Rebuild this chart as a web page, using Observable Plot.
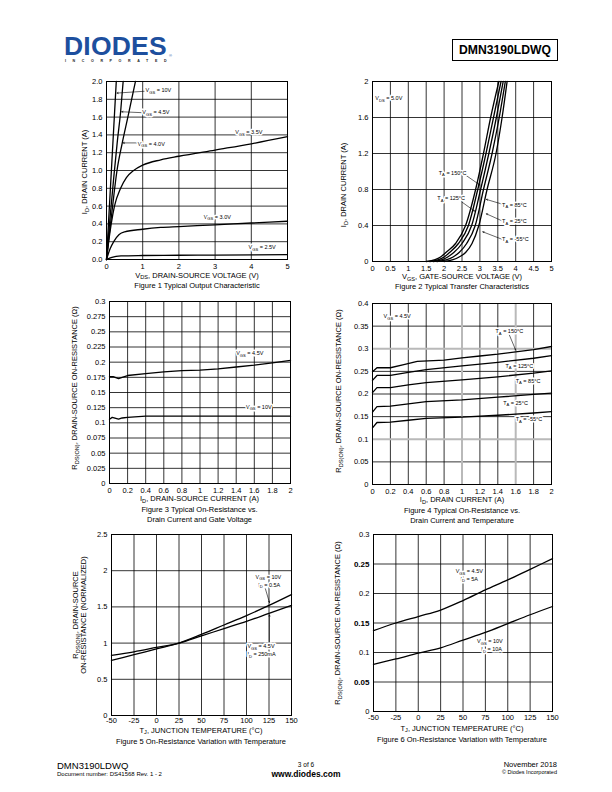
<!DOCTYPE html>
<html><head><meta charset="utf-8">
<script src="https://cdn.jsdelivr.net/npm/d3@7"></script>
<script src="https://cdn.jsdelivr.net/npm/@observablehq/plot@0.6"></script>
<style>
body{margin:0;background:#fff;}
#page{position:relative;width:612px;height:792px;overflow:hidden;font-family:"Liberation Sans",Arial,Helvetica,sans-serif;color:#000;background:#fff;}
.t{position:absolute;white-space:nowrap;line-height:1;}
.sub{font-size:75%;position:relative;top:0.3em;}
</style></head><body><div id="page"></div>
<script>
// ---------------- DATA ----------------
// Figure 1: I_D vs V_DS  [V_DS, I_D]
const fig1_xticks = [0,1,2,3,4,5];
const fig1_yticks = [0,0.2,0.4,0.6,0.8,1.0,1.2,1.4,1.6,1.8,2.0];
const fig1_vgs10 = [[0,0],[0.27,2.0]];
const fig1_vgs45 = [[0,0],[0.1,0.48],[0.2,0.92],[0.3,1.33],[0.39,1.66],[0.46,2.0]];
const fig1_vgs40 = [[0,0],[0.07,0.26],[0.14,0.5],[0.29,1.0],[0.43,1.3],[0.59,1.6],[0.8,2.0]];
const fig1_vgs35 = [[0,0],[0.06,0.2],[0.13,0.4],[0.22,0.6],[0.39,0.8],[0.55,0.92],[0.75,1.0],[1.0,1.06],[1.5,1.12],[2,1.16],[3,1.23],[4,1.3],[5,1.38]];
const fig1_vgs30 = [[0,0],[0.1,0.12],[0.2,0.2],[0.35,0.28],[0.5,0.31],[1.0,0.34],[1.5,0.36],[2,0.37],[3,0.39],[4,0.41],[5,0.43]];
const fig1_vgs25 = [[0,0],[0.15,0.025],[0.4,0.04],[1,0.045],[2,0.048],[3,0.05],[5,0.055]];
const fig1_labels = [
  {x:1.08,y:1.90,text:"V_{GS} = 10V",anchor:"start"},
  {x:0.99,y:1.65,text:"V_{GS} = 4.5V",anchor:"start"},
  {x:0.86,y:1.30,text:"V_{GS} = 4.0V",anchor:"start"},
  {x:3.93,y:1.43,text:"V_{GS} = 3.5V",anchor:"middle"},
  {x:3.06,y:0.48,text:"V_{GS} = 3.0V",anchor:"middle"},
  {x:4.30,y:0.135,text:"V_{GS} = 2.5V",anchor:"middle"}];
const fig1_arrows = [
  {x1:1.04,y1:1.89,x2:0.29,y2:1.87},
  {x1:0.96,y1:1.65,x2:0.42,y2:1.66},
  {x1:0.83,y1:1.31,x2:0.46,y2:1.31}];

// Figure 2: I_D vs V_GS  [V_GS, I_D]
const fig2_xticks = [0,0.5,1,1.5,2,2.5,3,3.5,4,4.5,5];
const fig2_yticks = [0,0.4,0.8,1.2,1.6,2];
const fig2_ta150 = [[1.5,0],[1.75,0.02],[1.9,0.05],[2.05,0.1],[2.32,0.2],[2.6,0.4],[2.88,0.8],[3.1,1.2],[3.3,1.6],[3.53,2.0]];
const fig2_ta125 = [[1.6,0],[1.85,0.02],[2.0,0.05],[2.15,0.1],[2.4,0.2],[2.68,0.4],[2.94,0.8],[3.17,1.2],[3.38,1.6],[3.59,2.0]];
const fig2_ta85  = [[1.7,0],[1.95,0.02],[2.1,0.05],[2.27,0.1],[2.5,0.2],[2.77,0.4],[3.02,0.8],[3.25,1.2],[3.46,1.6],[3.65,2.0]];
const fig2_ta25  = [[1.8,0],[2.08,0.02],[2.25,0.05],[2.42,0.1],[2.63,0.2],[2.87,0.4],[3.1,0.8],[3.34,1.2],[3.54,1.6],[3.71,2.0]];
const fig2_tan55 = [[2.0,0],[2.25,0.02],[2.42,0.05],[2.6,0.1],[2.78,0.2],[2.97,0.4],[3.2,0.8],[3.45,1.2],[3.62,1.6],[3.76,2.0]];
const fig2_labels = [
  {x:0.08,y:1.81,text:"V_{DS} = 5.0V",anchor:"start"},
  {x:1.85,y:0.986,text:"T_{A} = 150°C",anchor:"start"},
  {x:1.81,y:0.70,text:"T_{A} = 125°C",anchor:"start"},
  {x:3.62,y:0.63,text:"T_{A} = 85°C",anchor:"start"},
  {x:3.62,y:0.448,text:"T_{A} = 25°C",anchor:"start"},
  {x:3.62,y:0.244,text:"T_{A} = -55°C",anchor:"start"}];
const fig2_arrows = [
  {x1:2.6,y1:0.96,x2:3.0,y2:0.85},
  {x1:2.5,y1:0.66,x2:2.85,y2:0.56},
  {x1:3.6,y1:0.64,x2:3.18,y2:0.69},
  {x1:3.6,y1:0.455,x2:3.18,y2:0.53},
  {x1:3.6,y1:0.25,x2:3.08,y2:0.33}];

// Figure 3: R_DS(ON) vs I_D
const fig3_xticks = [0,0.2,0.4,0.6,0.8,1,1.2,1.4,1.6,1.8,2];
const fig3_yticks = [0,0.025,0.05,0.075,0.1,0.125,0.15,0.175,0.2,0.225,0.25,0.275,0.3];
const fig3_vgs45 = [[0,0.176],[0.04,0.176],[0.1,0.173],[0.14,0.175],[0.2,0.178],[0.4,0.181],[0.6,0.184],[0.8,0.186],[1.0,0.187],[1.2,0.189],[1.4,0.192],[1.6,0.195],[1.8,0.199],[2.0,0.203]];
const fig3_vgs10 = [[0,0.106],[0.03,0.109],[0.1,0.106],[0.14,0.108],[0.2,0.109],[0.4,0.111],[0.6,0.111],[0.8,0.111],[1.0,0.111],[1.4,0.111],[1.8,0.111],[2.0,0.111]];
const fig3_labels = [
  {x:1.55,y:0.214,text:"V_{GS} = 4.5V",anchor:"middle"},
  {x:1.65,y:0.126,text:"V_{GS} = 10V",anchor:"middle"}];

// Figure 4: R_DS(ON) vs I_D and temperature
const fig4_xticks = [0,0.2,0.4,0.6,0.8,1,1.2,1.4,1.6,1.8,2];
const fig4_yticks = [0,0.05,0.1,0.15,0.2,0.25,0.3,0.35,0.4];
const fig4_grayX = [1,1.6];
const fig4_grayY = [0.1,0.3];
const fig4_ta150 = [[0,0.249],[0.05,0.258],[0.2,0.258],[0.35,0.265],[0.5,0.272],[0.8,0.275],[1.0,0.28],[1.2,0.284],[1.4,0.288],[1.6,0.293],[1.8,0.298],[2.0,0.305]];
const fig4_ta125 = [[0,0.23],[0.05,0.241],[0.2,0.241],[0.4,0.248],[0.6,0.254],[1.0,0.262],[1.4,0.27],[1.8,0.279],[2.0,0.285]];
const fig4_ta85  = [[0,0.203],[0.05,0.214],[0.2,0.214],[0.4,0.22],[0.6,0.225],[1.0,0.231],[1.4,0.238],[1.8,0.246],[2.0,0.251]];
const fig4_ta25  = [[0,0.16],[0.05,0.172],[0.2,0.173],[0.4,0.178],[0.6,0.183],[1.0,0.187],[1.4,0.193],[1.8,0.199],[2.0,0.202]];
const fig4_tan55 = [[0,0.125],[0.05,0.137],[0.2,0.138],[0.4,0.142],[0.6,0.146],[1.0,0.149],[1.4,0.153],[1.8,0.158],[2.0,0.161]];
const fig4_labels = [
  {x:0.123,y:0.371,text:"V_{GS} = 4.5V",anchor:"start"},
  {x:1.374,y:0.338,text:"T_{A} = 150°C",anchor:"start"},
  {x:1.486,y:0.262,text:"T_{A} = 125°C",anchor:"start"},
  {x:1.6,y:0.229,text:"T_{A} = 85°C",anchor:"start"},
  {x:1.46,y:0.18,text:"T_{A} = 25°C",anchor:"start"},
  {x:1.6,y:0.144,text:"T_{A} = -55°C",anchor:"start"}];
const fig4_arrows = [{x1:1.53,y1:0.33,x2:1.6,y2:0.297}];

// Figure 5: normalized R_DS(ON) vs T_J
const fig5_xticks = [-50,-25,0,25,50,75,100,125,150];
const fig5_yticks = [0,0.5,1,1.5,2,2.5];
const fig5_vgs10 = [[-50,0.76],[-25,0.84],[0,0.92],[25,1.0],[50,1.12],[75,1.25],[100,1.38],[125,1.52],[150,1.67]];
const fig5_vgs45 = [[-50,0.83],[-25,0.88],[0,0.94],[25,1.0],[50,1.1],[75,1.2],[100,1.3],[125,1.41],[150,1.52]];
const fig5_labels = [
  {x:110,y:1.915,text:"V_{GS} = 10V",anchor:"start"},
  {x:113,y:1.805,text:"I_{D} = 0.5A",anchor:"start"},
  {x:101,y:0.95,text:"V_{GS} = 4.5V",anchor:"start"},
  {x:101,y:0.84,text:"I_{D} = 250mA",anchor:"start"}];
const fig5_arrows = [
  {x1:121,y1:1.75,x2:125.5,y2:1.56},
  {x1:125.5,y1:1.01,x2:125.5,y2:1.39}];

// Figure 6: R_DS(ON) vs T_J
const fig6_xticks = [-50,-25,0,25,50,75,100,125,150];
const fig6_yticks = [0,0.05,0.1,0.15,0.2,0.25,0.3];
const fig6_vgs45 = [[-50,0.137],[-25,0.15],[0,0.161],[25,0.172],[50,0.188],[75,0.206],[100,0.223],[125,0.241],[150,0.259]];
const fig6_vgs10 = [[-50,0.08],[-25,0.089],[0,0.099],[25,0.108],[50,0.121],[75,0.134],[100,0.149],[125,0.164],[150,0.178]];
const fig6_labels = [
  {x:57,y:0.2375,text:"V_{GS} = 4.5V",anchor:"middle"},
  {x:57,y:0.2245,text:"I_{D} = 5A",anchor:"middle"},
  {x:80,y:0.1185,text:"V_{GS} = 10V",anchor:"middle"},
  {x:82,y:0.1055,text:"I_{D} = 10A",anchor:"middle"}];
const fig6_boldTicks = ["0.25","0.15","0.05"];

// ---------------- RENDER ----------------
const page = document.getElementById("page");
const FONT = '"Liberation Sans", Arial, Helvetica, sans-serif';
const ANN = 5.5;
const svgns = "http://www.w3.org/2000/svg";

function subHTML(s){ return s.replace(/_\{([^}]*)\}/g,'<span class="sub">$1</span>'); }
function txt(s,x,y,o={}){
  const d=document.createElement("div");
  d.className="t"; d.innerHTML=subHTML(s);
  d.style.left=x+"px"; d.style.top=y+"px";
  d.style.fontSize=(o.size||7.5)+"px";
  if(o.weight) d.style.fontWeight=o.weight;
  if(o.color) d.style.color=o.color;
  if(o.ls) d.style.letterSpacing=o.ls+"px";
  const a=o.anchor||"middle";
  const tx=a==="middle"?"-50%":a==="end"?"-100%":"0";
  d.style.transform=`translate(${tx},-50%)`+(o.rotate?" rotate(-90deg)":"");
  page.appendChild(d); return d;
}
function subify(svg,fs){
  svg.querySelectorAll("text").forEach(t=>{
    const s=t.textContent;
    if(!s.includes("_{")||t.querySelector("tspan")) return;
    t.textContent="";
    let shifted=false;
    const add=(str,sub)=>{
      if(!str) return;
      const ts=document.createElementNS(svgns,"tspan");
      ts.textContent=str;
      if(sub){ts.setAttribute("font-size",fs*0.75);ts.setAttribute("dy",fs*0.3);shifted=true;}
      else if(shifted){ts.setAttribute("dy",-fs*0.3);shifted=false;}
      t.appendChild(ts);
    };
    const re=/_\{([^}]*)\}/g; let last=0,m;
    while((m=re.exec(s))){add(s.slice(last,m.index),false);add(m[1],true);last=re.lastIndex;}
    add(s.slice(last),false);
  });
}
function chart(c){
  const {L,R,T,B}=c.frame; const mL=42,mR=14,mT=8,mB=16;
  const W=R-L+mL+mR, H=B-T+mT+mB;
  const marks=[];
  if(c.gridMarks) marks.push(...c.gridMarks);
  else marks.push(Plot.ruleX(c.xticks,{stroke:"black",strokeWidth:0.8}),Plot.ruleY(c.yticks,{stroke:"black",strokeWidth:0.8}));
  marks.push(Plot.frame({stroke:"black",strokeWidth:1}));
  c.series.forEach(s=>marks.push(Plot.line(s,{x:p=>p[0],y:p=>p[1],stroke:"black",strokeWidth:1.3,curve:c.curve||"monotone-x"})));
  if(c.arrows) marks.push(Plot.arrow(c.arrows,{x1:"x1",y1:"y1",x2:"x2",y2:"y2",stroke:"black",strokeWidth:0.6,headLength:3.5,headAngle:50}));
  if(c.labels) ["start","middle","end"].forEach(a=>{
    const ls=c.labels.filter(d=>d.anchor===a);
    if(ls.length) marks.push(Plot.text(ls,{x:"x",y:"y",text:"text",textAnchor:a,fontSize:ANN,fill:"black",stroke:"white",strokeWidth:3}));
  });
  marks.push(Plot.axisX({ticks:c.xticks,tickSize:0,tickPadding:c.xpad??4,tickFormat:c.xfmt||(d=>String(d)),label:null}));
  marks.push(Plot.axisY({ticks:c.yticks,tickSize:0,tickPadding:4,tickFormat:c.yfmt||(d=>String(d)),label:null}));
  const svg=Plot.plot({width:W,height:H,marginLeft:mL,marginRight:mR,marginTop:mT,marginBottom:mB,
    x:{domain:c.xdomain},y:{domain:c.ydomain},
    style:{fontFamily:FONT,fontSize:"7.5px",color:"black",background:"transparent",overflow:"visible"},marks});
  svg.style.position="absolute"; svg.style.left=(L-mL)+"px"; svg.style.top=(T-mT)+"px";
  subify(svg,ANN);
  page.appendChild(svg);
  return svg;
}

// Header
txt("DIODES",64,45.5,{size:26.5,weight:"bold",anchor:"start",color:"#1d4f9e",ls:0.2});
txt("INCORPORATED",65,62,{size:3.6,weight:"bold",anchor:"start",color:"#222",ls:6.6});
txt("®",169,56,{size:4,anchor:"start",color:"#1d4f9e"});
const box=document.createElement("div");
box.style.cssText="position:absolute;left:452px;top:39px;width:104px;height:20px;border:1.2px solid #000;display:flex;align-items:center;justify-content:center;font-weight:bold;font-size:12.2px;";
box.textContent="DMN3190LDWQ"; page.appendChild(box);

// Figure 1
chart({frame:{L:106,R:287,T:81,B:259},xdomain:[0,5],ydomain:[0,2],xticks:fig1_xticks,yticks:fig1_yticks,
  yfmt:d=>d.toFixed(1),series:[fig1_vgs10,fig1_vgs45,fig1_vgs40,fig1_vgs35,fig1_vgs30,fig1_vgs25],
  labels:fig1_labels,arrows:fig1_arrows});
txt("V_{DS}, DRAIN-SOURCE VOLTAGE (V)",197,275.5);
txt("Figure 1  Typical Output Characteristic",197,285.5);
txt("I_{D}, DRAIN CURRENT (A)",85,172,{rotate:true});

// Figure 2
chart({frame:{L:372,R:551,T:81,B:261},xdomain:[0,5],ydomain:[0,2],xticks:fig2_xticks,yticks:fig2_yticks,
  series:[fig2_ta150,fig2_ta125,fig2_ta85,fig2_ta25,fig2_tan55],labels:fig2_labels,arrows:fig2_arrows});
txt("V_{GS}, GATE-SOURCE VOLTAGE (V)",462,277);
txt("Figure 2  Typical Transfer Characteristics",462,287);
txt("I_{D}, DRAIN CURRENT (A)",344,185,{rotate:true});

// Figure 3
chart({frame:{L:109,R:290,T:301,B:483},xdomain:[0,2],ydomain:[0,0.3],xticks:fig3_xticks,yticks:fig3_yticks,
  series:[fig3_vgs45,fig3_vgs10],curve:"linear",labels:fig3_labels});
txt("I_{D}, DRAIN-SOURCE CURRENT (A)",199.5,499.3);
txt("Figure 3  Typical On-Resistance vs.",199.5,510);
txt("Drain Current and Gate Voltage",199.5,520);
txt("R_{DS(ON)}, DRAIN-SOURCE ON-RESISTANCE (Ω)",75,388,{rotate:true});

// Figure 4
chart({frame:{L:372,R:551,T:303,B:484},xdomain:[0,2],ydomain:[0,0.4],xticks:fig4_xticks,yticks:fig4_yticks,
  gridMarks:[
    Plot.ruleX(fig4_xticks.filter(v=>!fig4_grayX.includes(v)),{stroke:"black",strokeWidth:0.8}),
    Plot.ruleY(fig4_yticks.filter(v=>!fig4_grayY.includes(v)),{stroke:"black",strokeWidth:0.8}),
    Plot.ruleX(fig4_grayX,{stroke:"#b9b9b9",strokeWidth:2}),
    Plot.ruleY(fig4_grayY,{stroke:"#b9b9b9",strokeWidth:2})],
  series:[fig4_ta150,fig4_ta125,fig4_ta85,fig4_ta25,fig4_tan55],curve:"linear",labels:fig4_labels,arrows:fig4_arrows});
txt("I_{D}, DRAIN CURRENT (A)",462,500);
txt("Figure 4  Typical On-Resistance vs.",462,510.5);
txt("Drain Current and Temperature",462,520.5);
txt("R_{DS(ON)}, DRAIN-SOURCE ON-RESISTANCE (Ω)",339,391,{rotate:true});

// Figure 5
chart({frame:{L:111,R:291,T:534,B:715},xdomain:[-50,150],ydomain:[0,2.5],xticks:fig5_xticks,yticks:fig5_yticks,
  xpad:2.5,series:[fig5_vgs10,fig5_vgs45],labels:fig5_labels,arrows:fig5_arrows});
txt("T_{J}, JUNCTION TEMPERATURE (°C)",201,730.5);
txt("Figure 5 On-Resistance Variation with Temperature",201,742);
txt("R_{DS(ON)}, DRAIN-SOURCE",76,615,{rotate:true});
txt("ON-RESISTANCE (NORMALIZED)",83.5,615,{rotate:true});

// Figure 6
const s6=chart({frame:{L:373,R:552,T:534,B:711},xdomain:[-50,150],ydomain:[0,0.3],xticks:fig6_xticks,yticks:fig6_yticks,
  xpad:3,series:[fig6_vgs45,fig6_vgs10],labels:fig6_labels});
s6.querySelectorAll('g[aria-label="y-axis tick label"] text').forEach(t=>{
  if(fig6_boldTicks.includes(t.textContent)) {t.setAttribute("font-weight","bold");t.setAttribute("font-size","8");}
});
txt("T_{J}, JUNCTION TEMPERATURE (°C)",462,728.5);
txt("Figure 6  On-Resistance Variation with Temperature",462,740);
txt("R_{DS(ON)}, DRAIN-SOURCE ON-RESISTANCE (Ω)",338,623,{rotate:true});

// Footer
txt("DMN3190LDWQ",57,765.5,{size:9.5,anchor:"start"});
txt("Document number: DS41568  Rev. 1 - 2",57,774,{size:6,anchor:"start"});
txt("3 of 6",306,764.5,{size:6.5});
txt("www.diodes.com",306,773.5,{size:8.5,weight:"bold"});
txt("November 2018",557,765,{size:7.5,anchor:"end"});
txt("© Diodes Incorporated",557,773,{size:5.5,anchor:"end"});
</script></body></html>
